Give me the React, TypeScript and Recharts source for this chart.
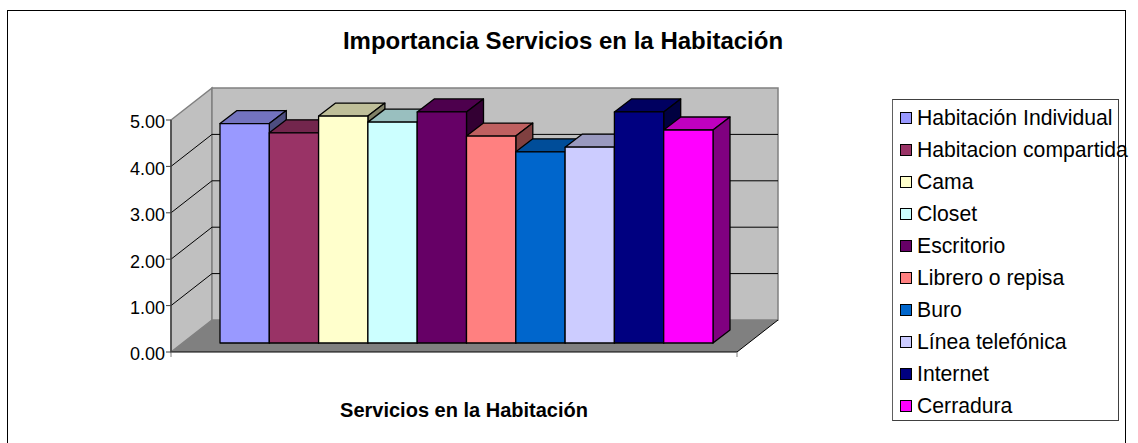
import { BarChart, Bar, XAxis, YAxis, CartesianGrid, Legend, Label } from "recharts";

const categories = [
  "Habitación Individual",
  "Habitacion compartida",
  "Cama",
  "Closet",
  "Escritorio",
  "Librero o repisa",
  "Buro",
  "Línea telefónica",
  "Internet",
  "Cerradura",
];
const values = [4.73, 4.53, 4.89, 4.76, 4.98, 4.46, 4.12, 4.22, 4.98, 4.59];
const colors = [
  "#9999FF",
  "#993366",
  "#FFFFCC",
  "#CCFFFF",
  "#660066",
  "#FF8080",
  "#0066CC",
  "#CCCCFF",
  "#000080",
  "#FF00FF",
];
const yTicks = [0, 1, 2, 3, 4, 5];

const row: Record<string, number | string> = { name: "Servicios" };
categories.forEach((c, i) => {
  row[c] = values[i];
});
const data = [row];

const FONT = "'Liberation Sans', Arial, sans-serif";
const LEFT = 171;
const RIGHT = 737;
const TOP = 120;
const BOTTOM = 352;
// depth of the floor / side wall
const WALL_DX = 41;
const WALL_DY = -32;
// bars sit a little behind the front edge of the floor
const BAR_DX = 13;
const BAR_DY = -9;
const BAR_DEPTH_X = 17;
const BAR_DEPTH_Y = -13;

const shade = (hex: string, f: number) => {
  const n = parseInt(hex.slice(1), 16);
  const r = Math.round(((n >> 16) & 255) * f);
  const g = Math.round(((n >> 8) & 255) * f);
  const b = Math.round((n & 255) * f);
  return `rgb(${r},${g},${b})`;
};

const Box3D = (props: any) => {
  const { x, y, width, height, fill } = props;
  const l = x + BAR_DX;
  const r = l + width;
  const t = y + BAR_DY;
  const b = t + height;
  const dx = BAR_DEPTH_X;
  const dy = BAR_DEPTH_Y;
  return (
    <g stroke="#000" strokeWidth={1.3} strokeLinejoin="round">
      <polygon
        points={`${l},${t} ${l + dx},${t + dy} ${r + dx},${t + dy} ${r},${t}`}
        fill={shade(fill, 0.75)}
      />
      <polygon
        points={`${r},${t} ${r + dx},${t + dy} ${r + dx},${b + dy} ${r},${b}`}
        fill={shade(fill, 0.5)}
      />
      <rect x={l} y={t} width={width} height={height} fill={fill} />
    </g>
  );
};

// drawn in its own svg under the chart so the gridlines land on top of it
const Walls = () => {
  const backL = LEFT + WALL_DX;
  const backR = RIGHT + WALL_DX;
  const backT = TOP + WALL_DY;
  const backB = BOTTOM + WALL_DY;
  return (
    <svg width={1138} height={443} style={{ position: "absolute", left: 0, top: 0 }}>
      <polygon
        points={`${LEFT},${TOP} ${backL},${backT} ${backL},${backB} ${LEFT},${BOTTOM}`}
        fill="#C0C0C0"
        stroke="#808080"
        strokeWidth={1.5}
      />
      <polygon
        points={`${backL},${backT} ${backR},${backT} ${backR},${backB} ${backL},${backB}`}
        fill="#C0C0C0"
        stroke="#808080"
        strokeWidth={1.5}
      />
      <polygon
        points={`${LEFT},${BOTTOM} ${backL},${backB} ${backR},${backB} ${RIGHT},${BOTTOM}`}
        fill="#808080"
      />
    </svg>
  );
};

const FloorEdges = () => (
  <g>
    <line x1={LEFT} y1={BOTTOM} x2={RIGHT} y2={BOTTOM} stroke="#000" />
    <line x1={RIGHT} y1={BOTTOM} x2={RIGHT + WALL_DX} y2={BOTTOM + WALL_DY} stroke="#000" />
    <line x1={LEFT} y1={BOTTOM} x2={LEFT} y2={BOTTOM + 5} stroke="#808080" />
    <line x1={RIGHT} y1={BOTTOM} x2={RIGHT} y2={BOTTOM + 5} stroke="#808080" />
  </g>
);

// gridline: across the back wall and down the side wall
const WallGridLine = (props: any) => {
  const { y1, index } = props;
  if (y1 <= TOP + 0.5 || y1 >= BOTTOM - 0.5) return <g key={index} />;
  return (
    <g key={index} stroke="#000" strokeWidth={1}>
      <line x1={LEFT} y1={y1} x2={LEFT + WALL_DX} y2={y1 + WALL_DY} />
      <line x1={LEFT + WALL_DX} y1={y1 + WALL_DY} x2={RIGHT + WALL_DX} y2={y1 + WALL_DY} />
    </g>
  );
};

const LegendBox = ({ payload }: any) => (
  <div
    style={{
      width: 227,
      height: 322,
      boxSizing: "border-box",
      border: "1px solid #404040",
      borderLeft: "1.5px solid #606060",
      paddingTop: 2,
    }}
  >
    {(payload || []).map((p: any) => (
      <div
        key={p.value}
        style={{
          height: 32,
          display: "flex",
          alignItems: "center",
          whiteSpace: "nowrap",
          fontFamily: FONT,
          fontSize: 21.2,
          color: "#000",
        }}
      >
        <span
          style={{
            display: "inline-block",
            flexShrink: 0,
            width: 10,
            height: 10,
            marginLeft: 7,
            marginRight: 5,
            background: p.color,
            border: "1px solid #000",
          }}
        />
        {p.value}
      </div>
    ))}
  </div>
);

export default function App() {
  return (
    <div
      style={{
        position: "absolute",
        left: 0,
        top: 0,
        width: 1138,
        height: 443,
        overflow: "hidden",
        background: "#fff",
      }}
    >
      <div
        style={{
          position: "absolute",
          left: 7,
          top: 10,
          width: 1119,
          height: 460,
          boxSizing: "border-box",
          border: "1px solid #000",
          borderTopWidth: 1.5,
          borderLeftWidth: 1.5,
        }}
      />
      <div
        style={{
          position: "absolute",
          left: 0,
          width: 1126,
          top: 27,
          textAlign: "center",
          fontFamily: FONT,
          fontWeight: "bold",
          fontSize: 24,
          color: "#000",
        }}
      >
        Importancia Servicios en la Habitación
      </div>
      <Walls />
      <BarChart
        width={1138}
        height={443}
        data={data}
        margin={{ top: TOP, left: LEFT - 60, right: 1138 - RIGHT, bottom: 443 - BOTTOM - 67 }}
        barGap={0}
        barSize={49.3}
        style={{ position: "absolute", left: 0, top: 0 }}
      >
        <CartesianGrid horizontal={(p: any) => <WallGridLine {...p} />} vertical={false} />
        <XAxis dataKey="name" height={67} tick={false} tickLine={false} axisLine={false}>
          <Label
            value="Servicios en la Habitación"
            position="insideBottom"
            dx={10}
            offset={2}
            style={{ fontFamily: FONT, fontWeight: "bold", fontSize: 20, fill: "#000" }}
          />
        </XAxis>
        <YAxis
          width={60}
          domain={[0, 5]}
          ticks={yTicks}
          interval={0}
          tickFormatter={(v: number) => v.toFixed(2)}
          tick={{ fontFamily: FONT, fontSize: 18, fill: "#000", dy: 2 }}
          tickSize={5}
          tickMargin={1}
          axisLine={{ stroke: "#404040", strokeWidth: 1.5 }}
          tickLine={{ stroke: "#404040" }}
        />
        <FloorEdges />
        {categories.map((c, i) => (
          <Bar
            key={c}
            dataKey={c}
            name={c}
            fill={colors[i]}
            shape={Box3D}
            isAnimationActive={false}
          />
        ))}
        <Legend
          layout="vertical"
          align="center"
          verticalAlign="middle"
          itemSorter={null}
          content={LegendBox}
          wrapperStyle={{ left: 892, top: 99, width: 227, height: 322 }}
        />
      </BarChart>
    </div>
  );
}
